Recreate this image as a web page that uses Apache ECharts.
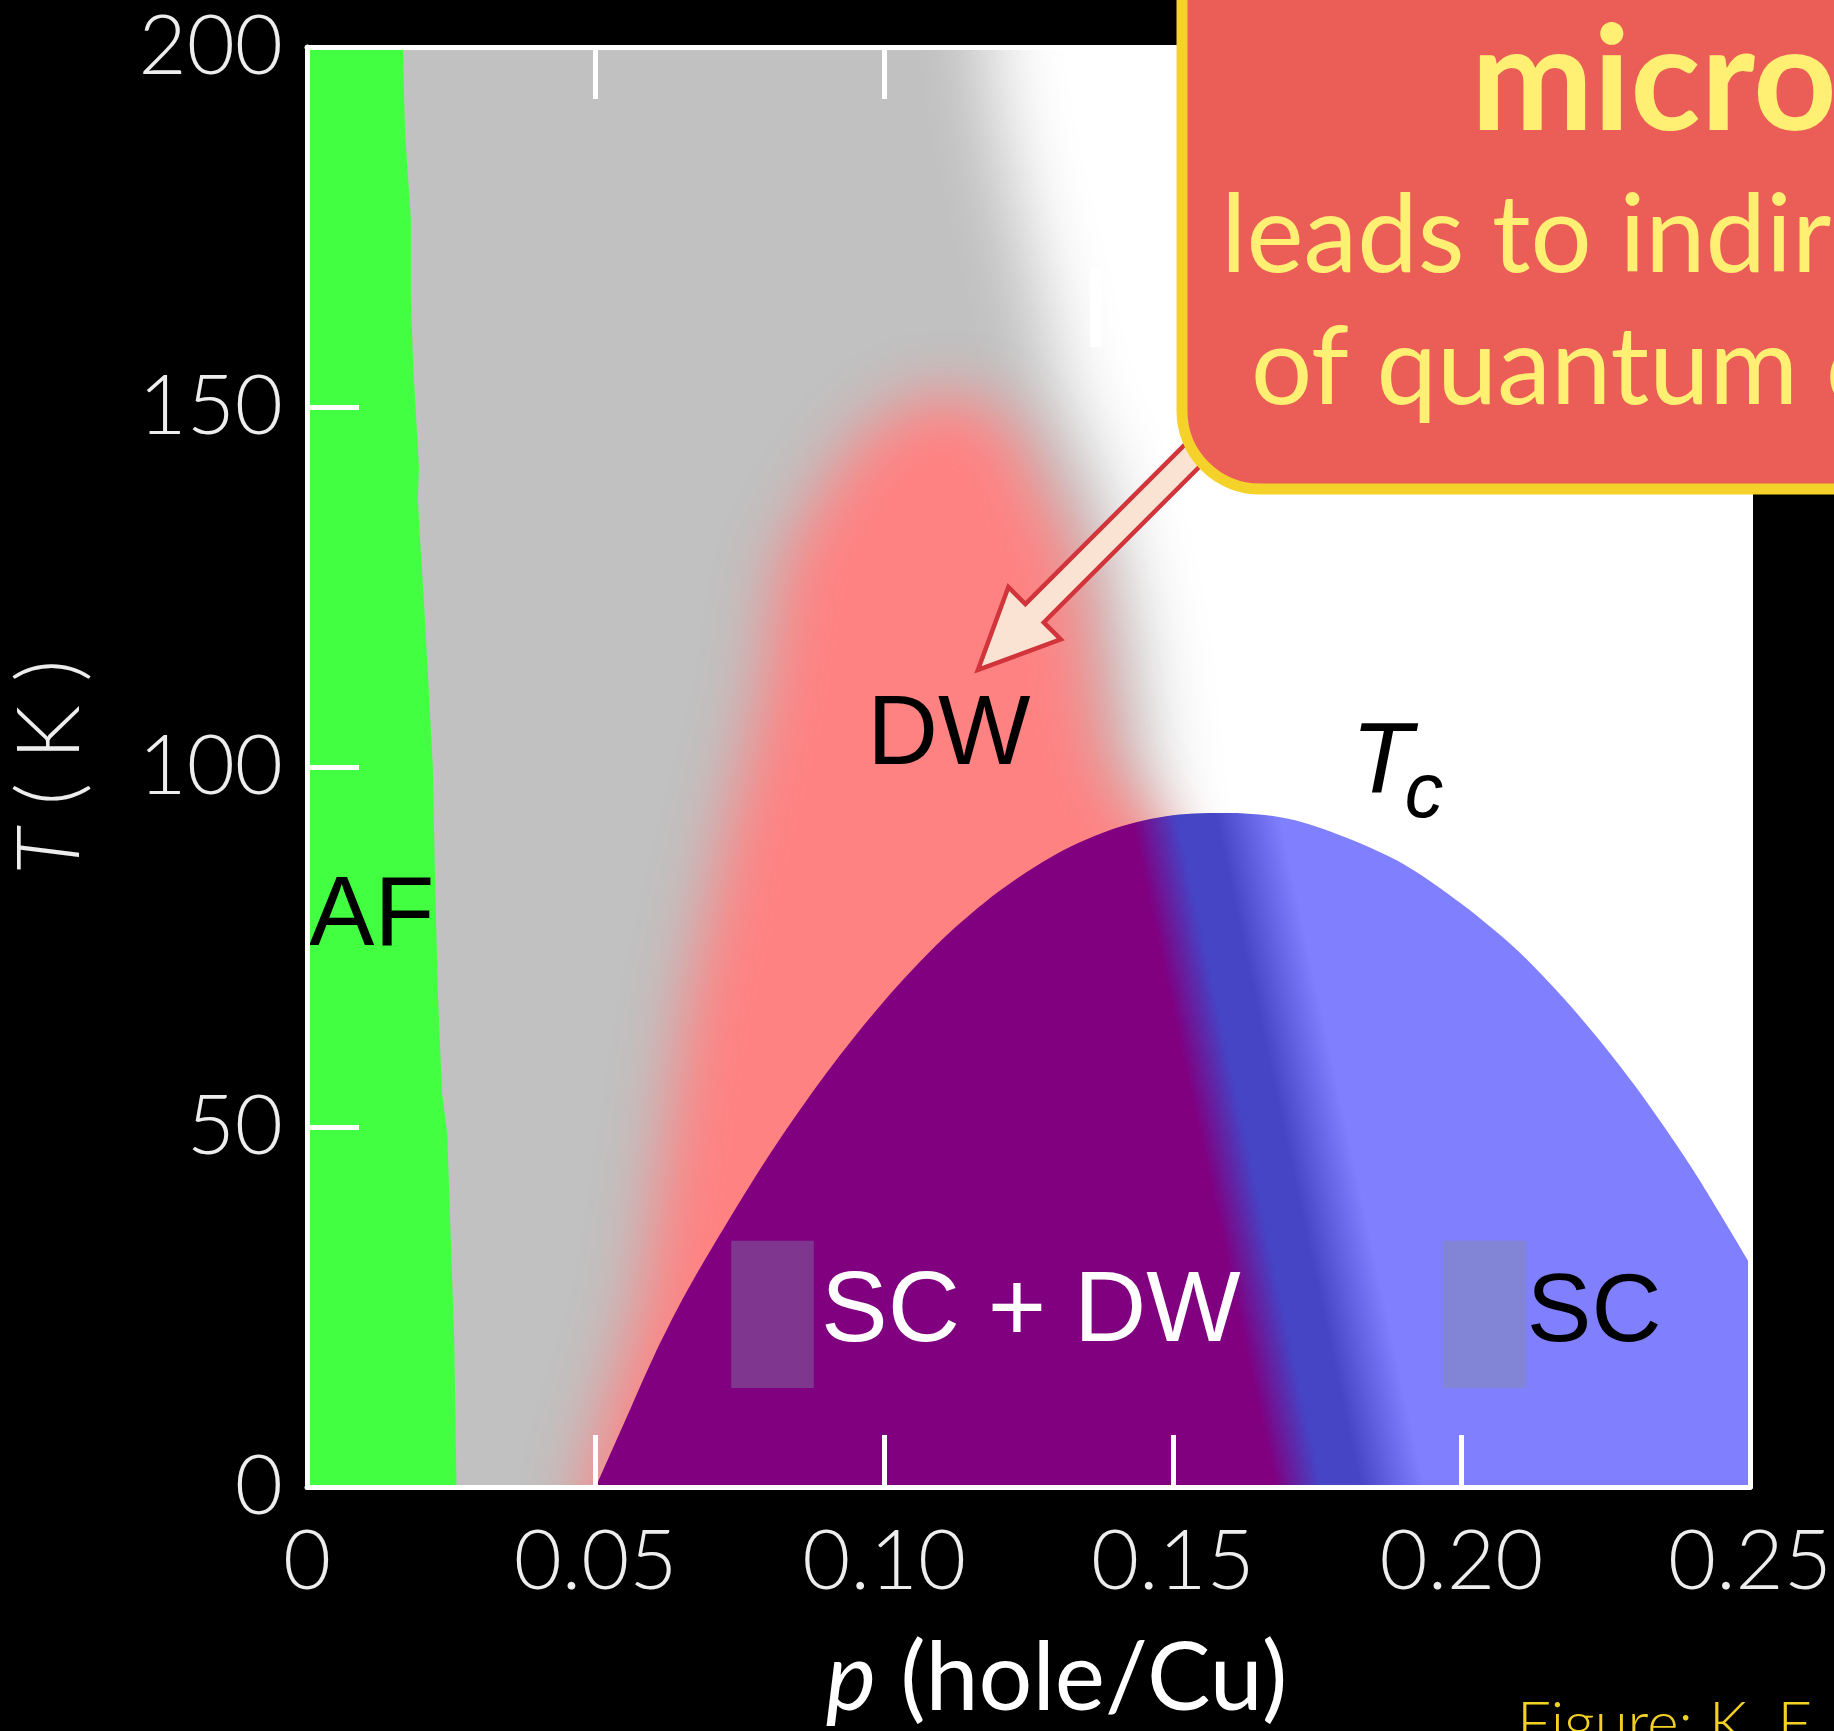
<!DOCTYPE html>
<html>
<head>
<meta charset="utf-8">
<script src="https://cdn.jsdelivr.net/npm/echarts@6/dist/echarts.min.js"></script>
<style>
  html, body { margin: 0; padding: 0; background: #000; }
  #chart { width: 1834px; height: 1731px; }
</style>
</head>
<body>
<div id="chart"></div>
<script>
// Axis ticks
const xTickLabels = ['0', '0.05', '0.10', '0.15', '0.20', '0.25'];
const yTickLabels = ['0', '50', '100', '150', '200'];

// Superconducting dome Tc(p)
const tcP = [0.05, 0.055, 0.06, 0.065, 0.07, 0.08, 0.09, 0.10, 0.11, 0.12, 0.13, 0.14, 0.15, 0.16, 0.17, 0.18, 0.19, 0.20, 0.21, 0.22, 0.23, 0.24, 0.25];
const tcT = [0, 9, 18, 26, 33, 46, 57.5, 67.5, 76, 82.8, 88, 91.5, 93.3, 93.6, 92.8, 90.2, 86.5, 81, 74.3, 65.8, 55.8, 44.2, 31];

// Antiferromagnet (AF) boundary, bottom to top
const afEdgeT = [0, 5.5, 20.5, 49, 54.7, 68, 84, 100, 121, 137, 141.7, 155.6, 165, 176, 188, 200];
const afEdgeP = [0.0259, 0.0258, 0.0255, 0.0243, 0.0234, 0.0227, 0.0222, 0.0218, 0.0204, 0.0192, 0.0194, 0.0184, 0.0180, 0.0180, 0.0170, 0.0166];

// Pseudogap (grey) crossover, top to bottom
const pgEdgeT = [200, 187, 164, 150, 144, 137, 123, 109, 100, 90, 0];
const pgEdgeP = [0.118, 0.1206, 0.1275, 0.1313, 0.1357, 0.1386, 0.1430, 0.1454, 0.1461, 0.1480, 0.160];

// Density wave (DW) dome: left flank bottom to top, right flank top to bottom
const dwLeftT = [0, 26, 67, 90, 109, 129, 140, 146, 150.5, 152];
const dwLeftP = [0.048, 0.0579, 0.0657, 0.0724, 0.0785, 0.0823, 0.0906, 0.096, 0.104, 0.111];
const dwRightT = [150.5, 146, 140, 129, 109, 100, 88, 50, 0];
const dwRightP = [0.118, 0.1235, 0.1265, 0.1337, 0.1370, 0.1390, 0.1500, 0.1650, 0.1780];

// SC+DW / SC crossover line inside the dome
const crossP = [0.1554, 0.1769];
const crossT = [89.4, 9.6];

// Phase labels
const labelText = ['AF', 'DW', 'SC + DW', 'SC', 'T', 'c'];
const labelP = [0.0112, 0.1112, 0.1254, 0.2230, 0.1862, 0.1935];
const labelT = [79.0, 104.2, 24.1, 24.0, 100.4, 96.0];

// Shaded patches next to the SC labels
const patchP0 = [0.0735, 0.1968];
const patchP1 = [0.0878, 0.2112];
const patchT0 = [13.75, 13.75];
const patchT1 = [34.2, 34.2];

// Light sliver in the grey region
const notchP = [0.1357, 0.1376];
const notchT = [158.3, 169.4];

// Arrow tip (p, T)
const arrowTip = [0.11625, 113.5];

// ---------- styling ----------
const labelColor = ['#000', '#000', '#fff', '#000', '#000', '#000'];
const labelSize = [98, 98, 100, 97, 100, 77];
const labelItalic = [false, false, false, false, true, true];
const patchColor = ['#7F368E', '#8285D6'];

const GREY = '#C1C1C1';
const PINK = '#FF8282';
const GREEN = '#42FF42';
const PURPLE = '#800080';
const DARKBLUE = '#4545C6';
const LIGHTBLUE = '#8080FF';

// Soft-edged regions: the shape is drawn far above the canvas and only its
// blurred shadow is brought back into the plot.
const OFF = 4000;
function softPolygon(api, pts, color, blur) {
  return {
    type: 'polygon',
    shape: { points: pts.map(d => { const c = api.coord(d); return [c[0], c[1] - OFF]; }) },
    style: { fill: color, shadowColor: color, shadowBlur: blur, shadowOffsetX: 0, shadowOffsetY: OFF }
  };
}

const greyPts = [[-0.05, 270], [pgEdgeP[0], 270]]
  .concat(pgEdgeP.map((p, i) => [p, pgEdgeT[i]]))
  .concat([[pgEdgeP[pgEdgeP.length - 1], -60], [-0.05, -60]]);

const dwPts = [[dwLeftP[0], -50]]
  .concat(dwLeftP.map((p, i) => [p, dwLeftT[i]]))
  .concat(dwRightP.map((p, i) => [p, dwRightT[i]]))
  .concat([[dwRightP[dwRightP.length - 1], -50]]);

const afPts = [[-0.01, -10], [afEdgeP[0], -10]]
  .concat(afEdgeP.map((p, i) => [p, afEdgeT[i]]))
  .concat([[afEdgeP[afEdgeP.length - 1], 210], [-0.01, 210]]);

const FONT = 'Lato, "Open Sans", sans-serif';
const HELV = '"Liberation Sans", Arial, sans-serif';

const chart = echarts.init(document.getElementById('chart'), null, { renderer: 'canvas', width: 1834, height: 1731 });

const axisCommon = {
  type: 'value',
  z: 10,
  splitLine: { show: false },
  axisLine: { show: true, onZero: false, lineStyle: { color: '#fff', width: 5 } },
  axisTick: { show: true, inside: true, length: 52, lineStyle: { color: '#fff', width: 5 } }
};

const option = {
  backgroundColor: '#000',
  animation: false,
  grid: {
    left: 307, top: 47, width: 1443, height: 1440,
    show: true, backgroundColor: '#fff', borderWidth: 0,
    containLabel: false, outerBoundsMode: 'none'
  },
  xAxis: [
    Object.assign({}, axisCommon, {
      min: 0, max: 0.25, interval: 0.05, position: 'bottom',
      axisLabel: {
        color: '#EDEDED', fontSize: 83, fontFamily: FONT, fontWeight: 300, margin: 34,
        formatter: v => xTickLabels[Math.round(v / 0.05)]
      },
      name: '{i|p} (hole/Cu)', nameLocation: 'middle', nameGap: 145, nameMoveOverlap: false,
      nameTextStyle: {
        color: '#fff', fontSize: 95, fontFamily: FONT, padding: [0, 0, 0, 56],
        rich: { i: { fontStyle: 'italic', fontSize: 95, fontFamily: FONT, color: '#fff' } }
      }
    }),
    Object.assign({}, axisCommon, {
      min: 0, max: 0.25, interval: 0.05, position: 'top', axisLabel: { show: false }
    })
  ],
  yAxis: [
    Object.assign({}, axisCommon, {
      min: 0, max: 200, interval: 50, position: 'left',
      axisLabel: {
        color: '#EDEDED', fontSize: 83, fontFamily: FONT, fontWeight: 300, margin: 24, padding: [8, 0, 0, 0],
        formatter: v => yTickLabels[Math.round(v / 50)]
      },
      name: '{i|T} ( K )', nameLocation: 'middle', nameRotate: 90, nameGap: 213, nameMoveOverlap: false,
      nameTextStyle: {
        color: '#EDEDED', fontSize: 86, fontFamily: FONT, fontWeight: 300,
        rich: { i: { fontStyle: 'italic', fontSize: 86, fontFamily: FONT, fontWeight: 300, color: '#EDEDED' } }
      }
    }),
    Object.assign({}, axisCommon, {
      min: 0, max: 200, interval: 50, position: 'right', axisLabel: { show: false }
    })
  ],
  series: [
    {
      name: 'pseudogap', type: 'custom', z: 1, clip: true, silent: true,
      data: [[0.1, 100]],
      renderItem: (params, api) => softPolygon(api, greyPts, GREY, 72)
    },
    {
      name: 'sliver', type: 'custom', z: 2, clip: true, silent: true,
      data: [[notchP[0], notchT[0], notchP[1], notchT[1]]],
      renderItem: (params, api) => {
        const a = api.coord([api.value(0), api.value(3)]);
        const b = api.coord([api.value(2), api.value(1)]);
        return { type: 'rect', shape: { x: a[0], y: a[1], width: b[0] - a[0], height: b[1] - a[1] }, style: { fill: '#fff' } };
      }
    },
    {
      name: 'DW', type: 'custom', z: 3, clip: true, silent: true,
      data: [[0.1, 100]],
      renderItem: (params, api) => softPolygon(api, dwPts, PINK, 62)
    },
    {
      name: 'AF', type: 'custom', z: 4, clip: true, silent: true,
      data: [[0.01, 100]],
      renderItem: (params, api) => ({
        type: 'polygon',
        shape: { points: afPts.map(d => api.coord(d)) },
        style: { fill: GREEN }
      })
    },
    {
      name: 'Tc', type: 'line', z: 5, clip: true, silent: true,
      data: tcP.map((p, i) => [p, tcT[i]]),
      smooth: 0.3, symbol: 'none', showSymbol: false,
      lineStyle: { width: 0, color: 'transparent' },
      areaStyle: { color: PURPLE, opacity: 1 }
    },
    {
      name: 'label patches', type: 'custom', z: 6, clip: true, silent: true,
      data: patchP0.map((p, i) => [p, patchT0[i], patchP1[i], patchT1[i], i]),
      renderItem: (params, api) => {
        const a = api.coord([api.value(0), api.value(3)]);
        const b = api.coord([api.value(2), api.value(1)]);
        return { type: 'rect', shape: { x: a[0], y: a[1], width: b[0] - a[0], height: b[1] - a[1] }, style: { fill: patchColor[api.value(4)] } };
      }
    },
    {
      name: 'labels', type: 'custom', z: 7, clip: false, silent: true,
      data: labelP.map((p, i) => [p, labelT[i], i]),
      renderItem: (params, api) => {
        const i = api.value(2);
        const c = api.coord([api.value(0), api.value(1)]);
        return {
          type: 'text', x: c[0], y: c[1],
          style: {
            text: labelText[i], fill: labelColor[i], fontSize: labelSize[i], fontFamily: HELV,
            fontStyle: labelItalic[i] ? 'italic' : 'normal', align: 'center', verticalAlign: 'middle'
          }
        };
      }
    }
  ]
};

chart.setOption(option);

// Colour bands inside the dome follow the SC+DW / SC crossover line
const c0 = chart.convertToPixel({ gridIndex: 0 }, [crossP[0], crossT[0]]);
const c1 = chart.convertToPixel({ gridIndex: 0 }, [crossP[1], crossT[1]]);
let dx = c1[0] - c0[0], dy = c1[1] - c0[1];
const len = Math.hypot(dx, dy); dx /= len; dy /= len;
let nx = -dy, ny = dx;
if (nx < 0) { nx = -nx; ny = -ny; }
const mx = (c0[0] + c1[0]) / 2, my = (c0[1] + c1[1]) / 2;
const domeFill = new echarts.graphic.LinearGradient(
  mx - 66 * nx, my - 66 * ny, mx + 80 * nx, my + 80 * ny,
  [
    { offset: 0, color: PURPLE },
    { offset: 0.31, color: DARKBLUE },
    { offset: 0.57, color: DARKBLUE },
    { offset: 1, color: LIGHTBLUE }
  ], true);

// Block arrow pointing at the DW dome
const tip = chart.convertToPixel({ gridIndex: 0 }, arrowTip);
const ux = Math.SQRT1_2, uy = -Math.SQRT1_2;   // along the arrow, towards its tail
const px = Math.SQRT1_2, py = Math.SQRT1_2;    // across the arrow
const headLen = 80, headHalf = 37, shaftHalf = 13, totalLen = 380;
const bx = tip[0] + headLen * ux, by = tip[1] + headLen * uy;
const ex = tip[0] + totalLen * ux, ey = tip[1] + totalLen * uy;
const arrowPts = [
  [tip[0], tip[1]],
  [bx + headHalf * px, by + headHalf * py],
  [bx + shaftHalf * px, by + shaftHalf * py],
  [ex + shaftHalf * px, ey + shaftHalf * py],
  [ex - shaftHalf * px, ey - shaftHalf * py],
  [bx - shaftHalf * px, by - shaftHalf * py],
  [bx - headHalf * px, by - headHalf * py]
];

const YELLOW = '#FFEF73';
chart.setOption({
  series: [{}, {}, {}, {}, { areaStyle: { color: domeFill, opacity: 1 } }],
  graphic: [
    {
      type: 'polygon', z: 50, silent: true,
      shape: { points: arrowPts },
      style: { fill: '#FAE3D3', stroke: '#D1343A', lineWidth: 4.5, lineJoin: 'miter' }
    },
    {
      type: 'rect', z: 60, silent: true,
      shape: { x: 1182, y: -200, width: 900, height: 689, r: [0, 0, 0, 78] },
      style: { fill: '#EB5E58', stroke: '#F5D22A', lineWidth: 11 }
    },
    {
      type: 'text', z: 61, silent: true, x: 1471, y: 83,
      style: { text: 'micro', fill: YELLOW, fontSize: 146, fontWeight: 'bold', fontFamily: FONT, align: 'left', verticalAlign: 'middle' }
    },
    {
      type: 'text', z: 61, silent: true, x: 1221, y: 237,
      style: { text: 'leads to indir', fill: YELLOW, fontSize: 108, fontFamily: FONT, align: 'left', verticalAlign: 'middle' }
    },
    {
      type: 'text', z: 61, silent: true, x: 1251, y: 369,
      style: { text: 'of quantum c', fill: YELLOW, fontSize: 108, fontFamily: FONT, align: 'left', verticalAlign: 'middle' }
    },
    {
      type: 'text', z: 61, silent: true, x: 1517, y: 1725,
      style: { text: 'Figure: K. F', fill: '#F2D024', fontSize: 60, fontWeight: 300, fontFamily: FONT, align: 'left', verticalAlign: 'middle' }
    }
  ]
});
</script>
</body>
</html>
